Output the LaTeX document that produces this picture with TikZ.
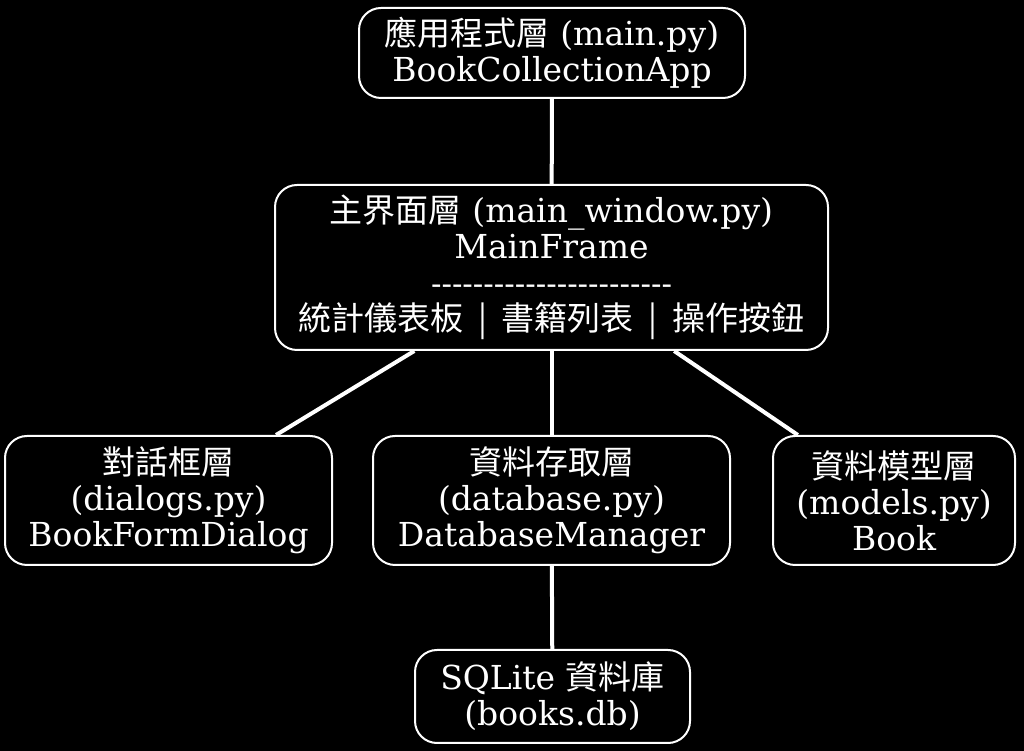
\documentclass[tikz,border=0pt]{standalone}
\usepackage{fontspec}
\setmainfont{DejaVu Serif}
\newfontfamily\cjk{Noto Sans CJK TC}
\newcommand\sep{\hspace{0.45em}|\hspace{0.45em}}
\begin{document}
\begin{tikzpicture}[x=1pt,y=1pt,
  box/.style={draw=white,line width=2pt,rounded corners=22pt,fill=black,text=white,
    align=center,font=\fontsize{33}{36}\selectfont,inner sep=0pt},
  link/.style={draw=white,line width=4pt}]
\fill[black] (0,0) rectangle (1024,751);
\useasboundingbox (0,0) rectangle (1024,751);
\node[box,minimum width=386pt,minimum height=90pt] (app) at (552,698)
  {{\cjk 應用程式層} (main.py)\\BookCollectionApp};
\node[box,minimum width=553pt,minimum height=165pt] (main) at (551.5,483.5)
  {{\cjk 主界面層} (main\_window.py)\\MainFrame\\
   {\fontsize{31}{36}\selectfont -{}-{}-{}-{}-{}-{}-{}-{}-{}-{}-{}-{}-{}-{}-{}-{}-{}-{}-{}-{}-{}-{}-}\\
   {\cjk 統計儀表板\sep 書籍列表\sep 操作按鈕}};
\node[box,minimum width=327pt,minimum height=129pt] (dlg) at (168.5,250.5)
  {{\cjk 對話框層}\\(dialogs.py)\\BookFormDialog};
\node[box,minimum width=357pt,minimum height=129pt] (db) at (551.5,250.5)
  {{\cjk 資料存取層}\\(database.py)\\DatabaseManager};
\node[box,minimum width=242pt,minimum height=129pt] (mdl) at (894,250.5)
  {{\cjk 資料模型層}\\(models.py)\\Book};
\node[box,minimum width=275pt,minimum height=93pt] (sql) at (552.5,54.5)
  {SQLite {\cjk 資料庫}\\(books.db)};
\draw[link] (app) -- (main);
\draw[link] (main) -- (dlg);
\draw[link] (main) -- (db);
\draw[link] (main) -- (mdl);
\draw[link] (db) -- (sql);
\end{tikzpicture}
\end{document}
